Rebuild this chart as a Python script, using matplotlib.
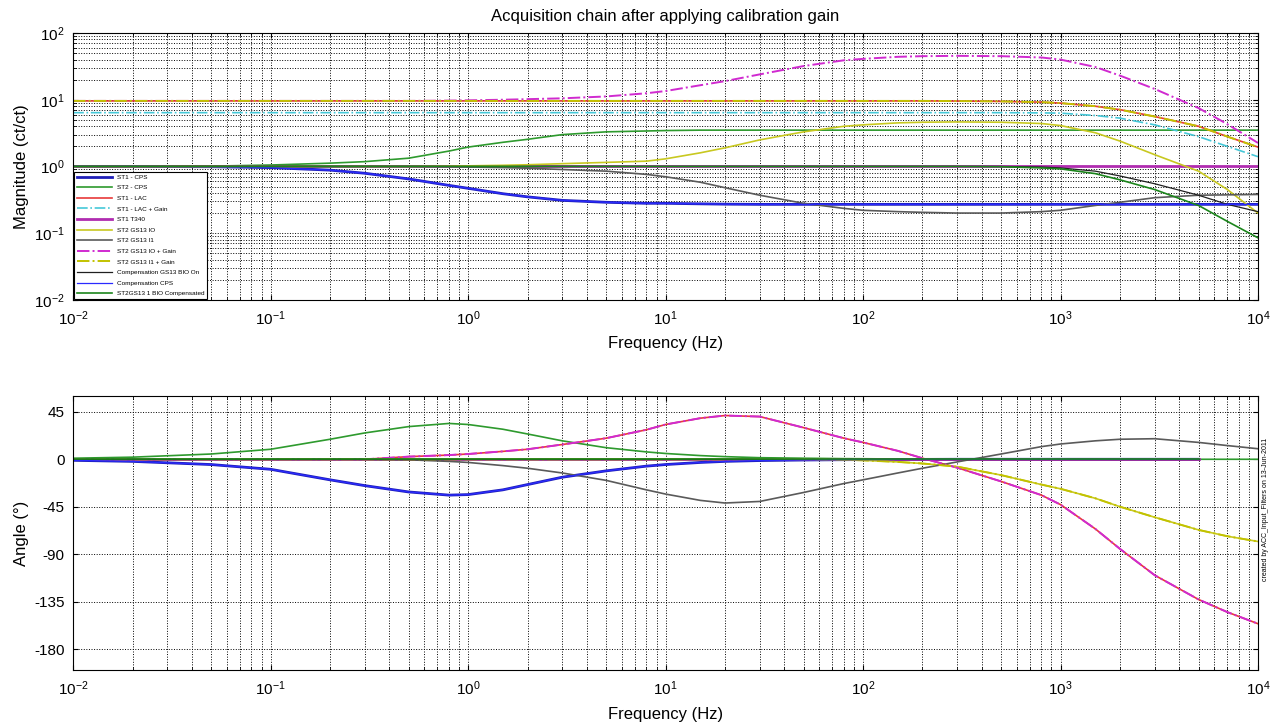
import matplotlib
matplotlib.use("Agg")
import matplotlib.pyplot as plt
import numpy as np

plt.rcParams['font.family'] = ['Liberation Sans', 'DejaVu Sans']
plt.rcParams['mathtext.default'] = 'regular'
plt.rcParams['axes.unicode_minus'] = False

freq = [0.01, 0.02, 0.05, 0.1, 0.2, 0.3, 0.5, 0.8, 1, 1.5, 2, 3, 5, 8, 10, 15, 20, 30,
        50, 80, 100, 150, 200, 300, 500, 800, 1000, 1500, 2000, 3000, 5000, 7000, 10000]

# Magnitudes (ct/ct)
mag_st1_cps = [1, 1, 0.99, 0.96, 0.88, 0.79, 0.65, 0.52, 0.47, 0.39, 0.35, 0.31, 0.29, 0.28, 0.28, 0.275, 0.272,
               0.27, 0.27, 0.27, 0.27, 0.27, 0.27, 0.27, 0.27, 0.27, 0.27, 0.27, 0.27, 0.27, 0.27, 0.27, 0.27]
mag_st2_cps = [1, 1, 1.01, 1.05, 1.12, 1.18, 1.33, 1.7, 1.95, 2.3, 2.55, 3.0, 3.3, 3.4, 3.45, 3.5, 3.5,
               3.5, 3.5, 3.5, 3.5, 3.5, 3.5, 3.5, 3.5, 3.5, 3.5, 3.5, 3.5, 3.5, 3.5, 3.5, 3.5]
mag_st1_lac = [9.6, 9.6, 9.6, 9.6, 9.6, 9.6, 9.6, 9.6, 9.6, 9.6, 9.6, 9.6, 9.6, 9.6, 9.6, 9.6, 9.6, 9.6,
               9.6, 9.6, 9.6, 9.6, 9.6, 9.55, 9.45, 9.2, 8.9, 8.0, 7.1, 5.6, 4.0, 2.8, 1.95]
mag_st1_lac_gain = [6.4, 6.4, 6.4, 6.4, 6.4, 6.4, 6.4, 6.4, 6.4, 6.4, 6.4, 6.4, 6.4, 6.4, 6.4, 6.4, 6.4, 6.4,
                    6.4, 6.4, 6.4, 6.4, 6.4, 6.4, 6.4, 6.35, 6.3, 5.8, 5.3, 4.2, 2.8, 2.0, 1.4]
mag_st1_t340 = [1] * 33
mag_gs13_io = [1, 1, 1, 1, 1, 1, 1, 1.01, 1.02, 1.04, 1.06, 1.1, 1.15, 1.2, 1.3, 1.6, 1.9, 2.5,
               3.3, 4.0, 4.2, 4.5, 4.6, 4.65, 4.6, 4.4, 4.1, 3.2, 2.4, 1.5, 0.85, 0.45, 0.2]
mag_gs13_i1 = [1, 1, 1, 1, 1, 1, 1, 0.99, 0.98, 0.96, 0.94, 0.9, 0.85, 0.76, 0.7, 0.58, 0.48, 0.37,
               0.28, 0.235, 0.22, 0.21, 0.205, 0.2, 0.2, 0.21, 0.22, 0.26, 0.29, 0.34, 0.37, 0.375, 0.38]
mag_gs13_io_gain = [9.6, 9.6, 9.6, 9.6, 9.6, 9.6, 9.6, 9.7, 9.8, 10.0, 10.2, 10.5, 11.2, 12.5, 13.5, 16.5, 19, 24,
                    32, 39, 41, 44, 45, 45.5, 45, 43, 40, 31, 23, 14.5, 7.5, 4.3, 2.25]
mag_gs13_i1_gain = [9.6, 9.6, 9.6, 9.6, 9.6, 9.6, 9.6, 9.6, 9.6, 9.6, 9.6, 9.6, 9.6, 9.6, 9.6, 9.6, 9.6, 9.6,
                    9.6, 9.6, 9.6, 9.6, 9.6, 9.55, 9.45, 9.2, 8.9, 8.0, 7.1, 5.6, 4.0, 2.8, 1.95]
mag_comp_bio = [1, 1, 1, 1, 1, 1, 1, 1, 1, 1, 1, 1, 1, 1, 1, 1, 1, 1,
                1, 1, 1, 1, 1, 1, 1, 0.98, 0.95, 0.85, 0.72, 0.55, 0.37, 0.27, 0.21]
mag_comp_cps = mag_st1_cps
mag_gs13_comp = [1, 1, 1, 1, 1, 1, 1, 1, 1, 1, 1, 1, 1, 1, 1, 1, 1, 1,
                 1, 1, 1, 1, 1, 1, 0.99, 0.95, 0.92, 0.78, 0.63, 0.45, 0.26, 0.15, 0.085]

# Phases (deg); nan where a curve is not drawn
ph_st1_cps = [-1, -2, -5, -9.5, -19.5, -25, -31, -34, -33.5, -29, -24, -17, -11, -6.5, -5, -3, -2, -1.2,
              -0.7, -0.4, -0.3, -0.2, -0.1, 0, 0, 0, 0, 0, 0, 0, 0, np.nan, np.nan]
ph_st2_cps = [1, 2, 5, 9.5, 19, 25, 31, 34, 33, 28.5, 24, 17.5, 11, 7, 5.5, 3.5, 2.5, 1.5,
              1, 0.6, 0.5, 0.3, 0.2, 0.1, 0, 0, 0, 0, 0, 0, 0, 0, 0]
ph_lead = [0, 0, 0, 0, 0, 0, 2.5, 4, 5, 7.5, 9.5, 14, 20, 28, 33, 39, 41.5, 40.5,
           30, 20, 16, 8, 1, -8, -21, -34, -43, -66, -85, -110, -133, -145, -156]
ph_lowpass = [0, 0, 0, 0, 0, 0, 0, 0, 0, 0, 0, 0, 0, 0, 0, 0, 0, 0,
              0, -0.5, -1, -2.5, -4, -7, -15, -24, -28, -37, -45, -55, -67, -73, -78]
ph_gs13_i1 = [0, 0, 0, 0, 0, 0, -0.5, -2, -3, -6, -8.5, -13, -20, -29, -33, -39, -41.5, -40,
              -31.5, -23, -19.5, -13, -8.5, -2.5, 5, 12, 14.5, 17.5, 19, 19.5, 16, 13, 10]
ph_flat = [0] * 31 + [np.nan, np.nan]

labels = ['ST1 - CPS', 'ST2 - CPS', 'ST1 - LAC', 'ST1 - LAC + Gain', 'ST1 T340', 'ST2 GS13 IO',
          'ST2 GS13 I1', 'ST2 GS13 IO + Gain', 'ST2 GS13 I1 + Gain', 'Compensation GS13 BIO On',
          'Compensation CPS', 'ST2GS13 1 BIO Compensated']
colors = ['#1f1fb8', '#2e9a2e', '#e83a3a', '#45c8d8', '#b02cb0', '#c8c820',
          '#5a5a5a', '#d02ad0', '#c2c200', '#202020', '#2a2aff', '#1b851b']
styles = ['-', '-', '-', '-.', '-', '-', '-', '-.', '-.', '-', '-', '-']
widths = [2.0, 1.2, 1.2, 1.2, 2.0, 1.2, 1.2, 1.4, 1.4, 0.9, 0.9, 1.2]
mags = [mag_st1_cps, mag_st2_cps, mag_st1_lac, mag_st1_lac_gain, mag_st1_t340, mag_gs13_io,
        mag_gs13_i1, mag_gs13_io_gain, mag_gs13_i1_gain, mag_comp_bio, mag_comp_cps, mag_gs13_comp]
phases = [ph_st1_cps, ph_st2_cps, ph_lead, ph_flat, ph_flat, ph_lowpass,
          ph_gs13_i1, ph_lead, ph_lowpass, ph_flat, ph_st1_cps, ph_flat]

fig = plt.figure(figsize=(12.83, 7.26), dpi=100)
ax1 = fig.add_axes([0.057, 0.587, 0.9235, 0.3675])
ax2 = fig.add_axes([0.057, 0.077, 0.9235, 0.3775])

for m, p, lab, c, ls, lw in zip(mags, phases, labels, colors, styles, widths):
    ax1.loglog(freq, m, color=c, linestyle=ls, linewidth=lw, label=lab)
    ax2.semilogx(freq, p, color=c, linestyle=ls, linewidth=lw)

for ax in (ax1, ax2):
    ax.set_xlim(1e-2, 1e4)
    ax.set_xticks([1e-2, 1e-1, 1e0, 1e1, 1e2, 1e3, 1e4])
    ax.grid(True, which='both', linestyle=':', color='k', linewidth=0.7)
    ax.tick_params(which='both', direction='in', top=True, right=True, labelsize=11)
    ax.tick_params(axis='x', pad=7)
    ax.tick_params(axis='y', pad=6)
    ax.set_xlabel('Frequency (Hz)', fontsize=12, labelpad=6)
    for s in ax.spines.values():
        s.set_linewidth(0.8)

ax1.set_ylim(1e-2, 1e2)
ax1.set_yticks([1e-2, 1e-1, 1e0, 1e1, 1e2])
ax1.set_ylabel('Magnitude (ct/ct)', fontsize=12)
ax1.set_title('Acquisition chain after applying calibration gain', fontsize=12, pad=9)

ax2.set_ylim(-200, 60)
ax2.set_yticks([45, 0, -45, -90, -135, -180])
ax2.set_ylabel('Angle (°)', fontsize=12)

leg = ax1.legend(loc='lower left', fontsize=4.6, handlelength=5.5, labelspacing=0.8,
                 fancybox=False, edgecolor='k', framealpha=1, borderaxespad=0.15)
leg.get_frame().set_linewidth(0.8)

fig.text(0.9865, 0.20, 'created by ACC_Input_Filters on 13-Jun-2011', rotation=90,
         fontsize=5, va='bottom', ha='center')

fig.savefig('out.png', dpi=100)
